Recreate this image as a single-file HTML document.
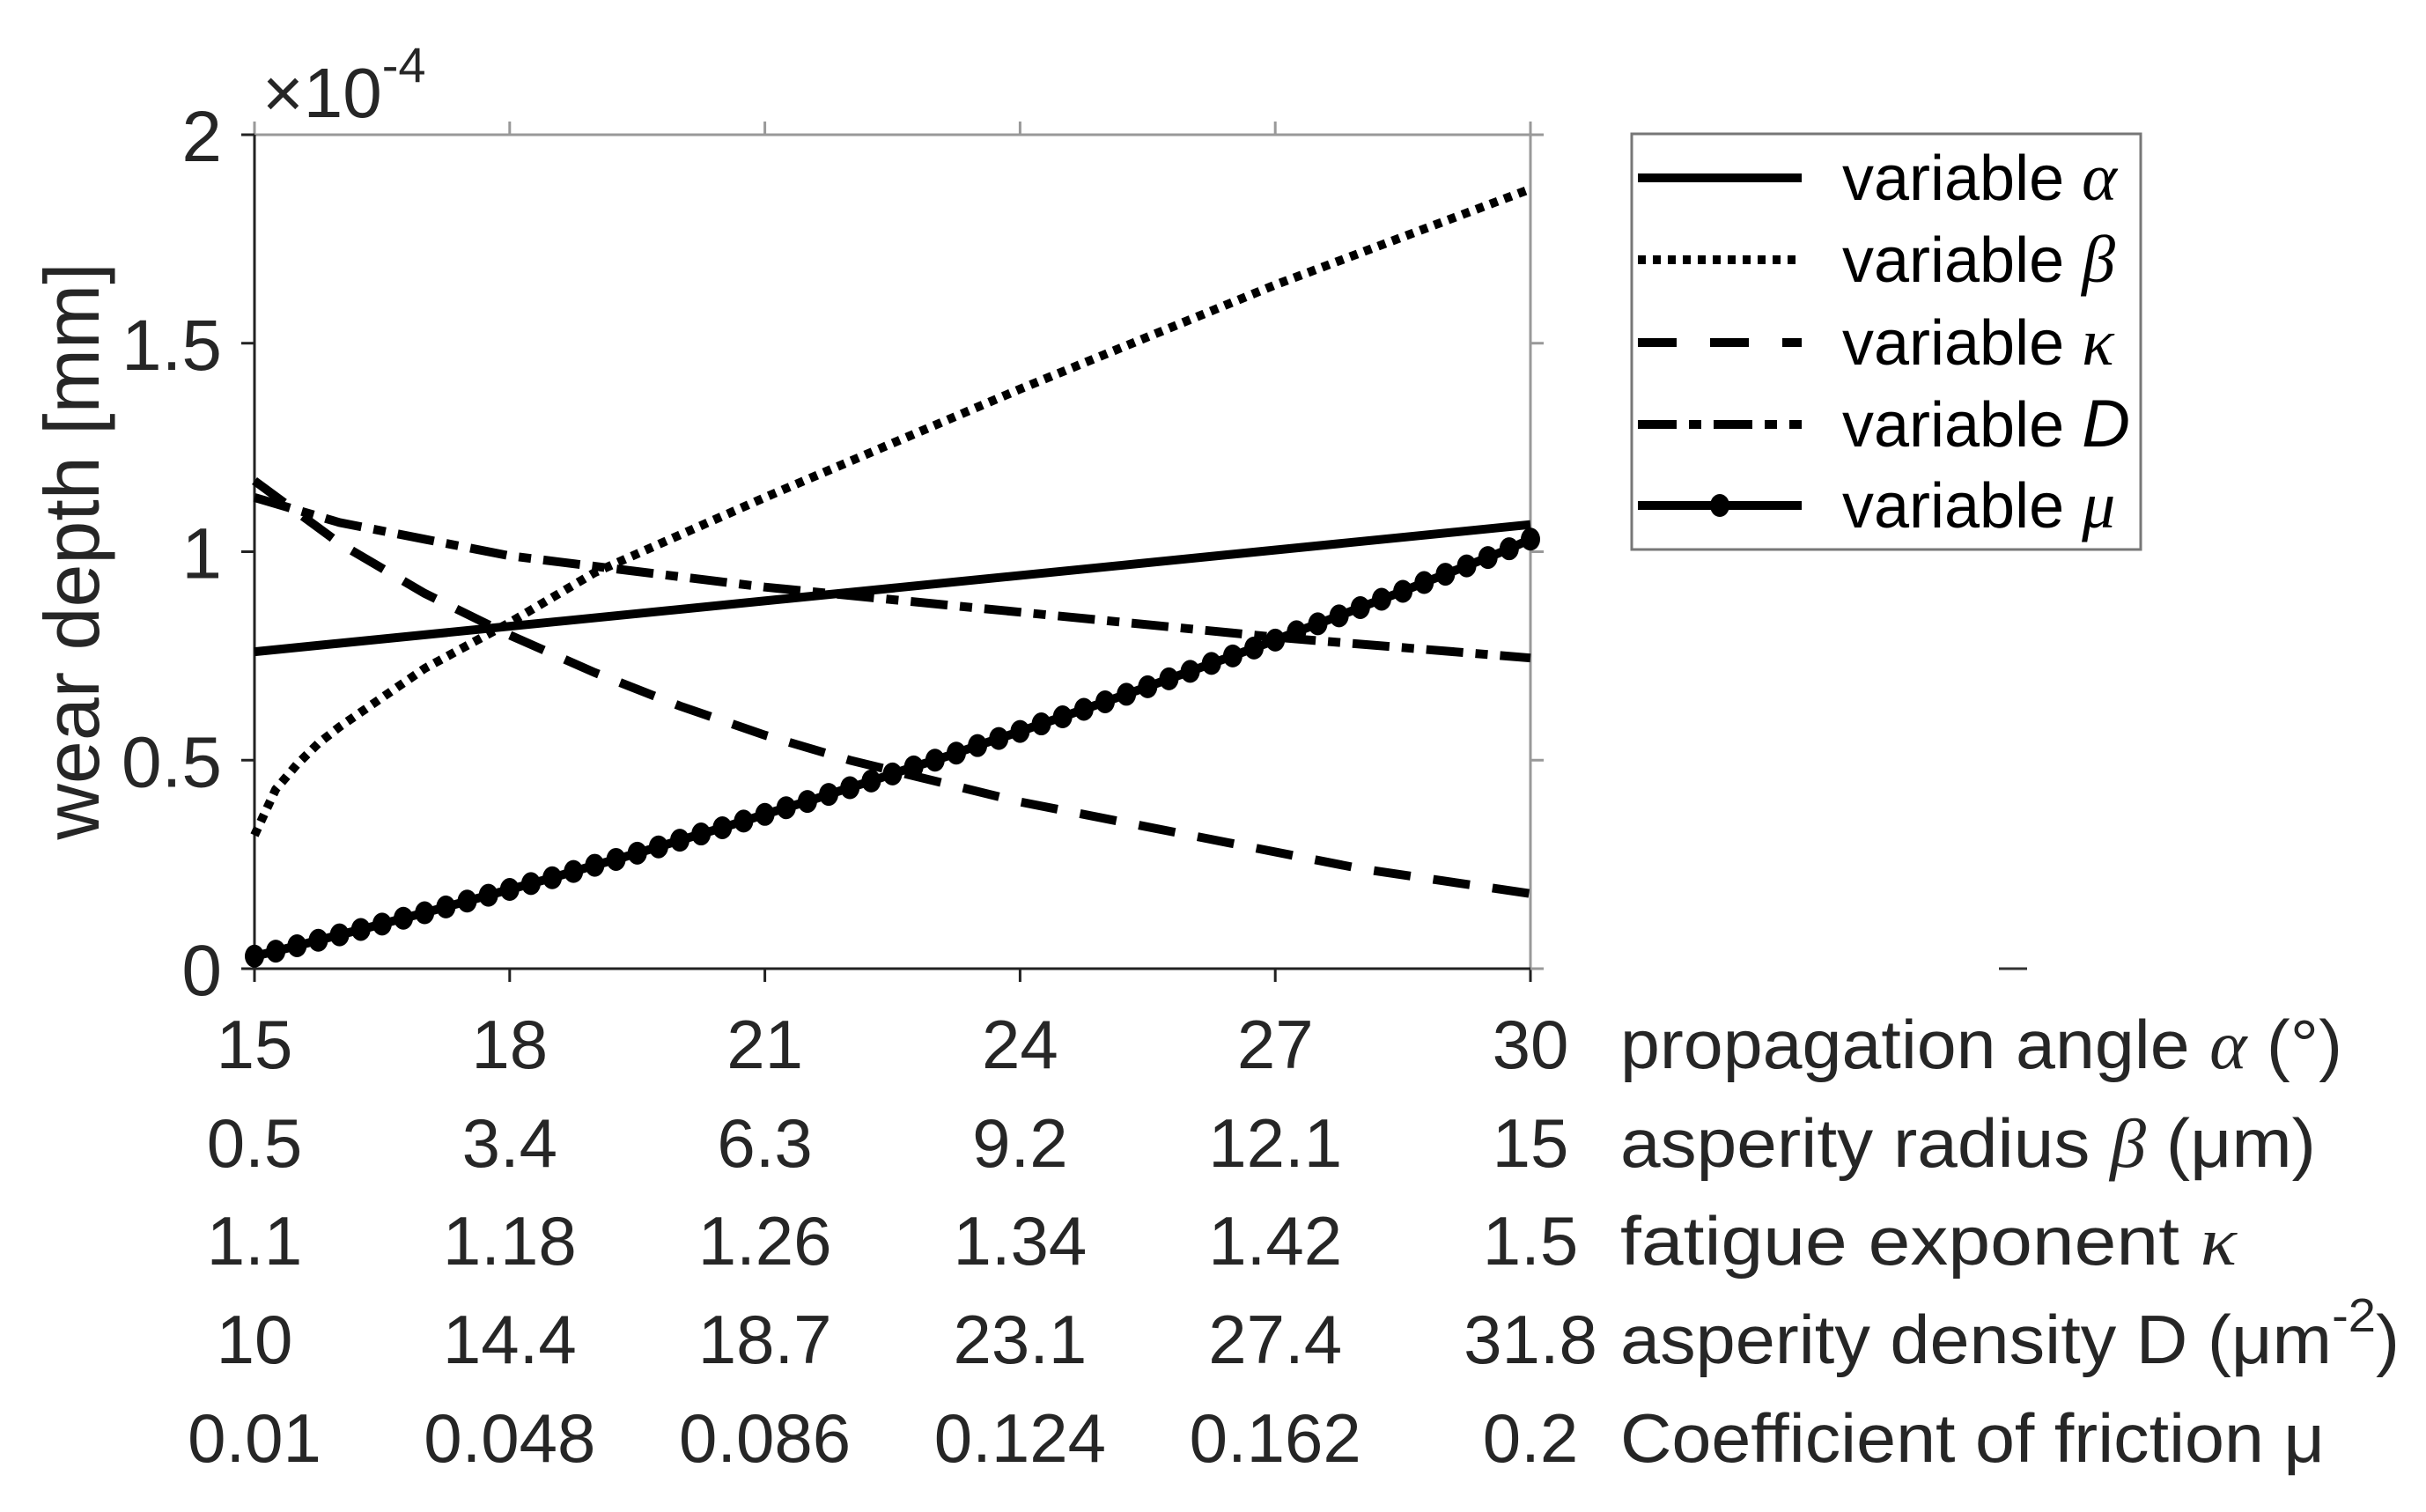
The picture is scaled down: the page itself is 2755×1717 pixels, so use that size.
<!DOCTYPE html>
<html><head><meta charset="utf-8"><style>
html,body{margin:0;padding:0;background:#fff;}
svg{display:block;font-family:"Liberation Sans",sans-serif;}
</style></head><body>
<svg id="chart" width="2755" height="1717" viewBox="0 0 2755 1717" xmlns="http://www.w3.org/2000/svg">
<g id="axes"></g>
<g id="series"></g>
<g id="legend"></g>
</svg>
<script>
const xTicks = [15, 18, 21, 24, 27, 30];
const yTicks = [0, 0.5, 1, 1.5, 2];
const yTickLabels = ["0", "0.5", "1", "1.5", "2"];
const rowAlpha = ["15", "18", "21", "24", "27", "30"];
const rowBeta = ["0.5", "3.4", "6.3", "9.2", "12.1", "15"];
const rowKappa = ["1.1", "1.18", "1.26", "1.34", "1.42", "1.5"];
const rowD = ["10", "14.4", "18.7", "23.1", "27.4", "31.8"];
const rowMu = ["0.01", "0.048", "0.086", "0.124", "0.162", "0.2"];
const alphaX = [15, 30];
const alphaY = [0.76, 1.065];
const betaX = [15, 15.25, 15.5, 15.75, 16, 16.5, 17, 18, 19, 21, 24, 27, 30];
const betaY = [0.32, 0.43, 0.49, 0.54, 0.58, 0.65, 0.72, 0.83, 0.95, 1.13, 1.39, 1.64, 1.87];
const kappaX = [15, 16, 17, 18, 19, 20, 21, 22, 24, 26, 28, 30];
const kappaY = [1.17, 1.02, 0.90, 0.80, 0.71, 0.63, 0.56, 0.50, 0.40, 0.32, 0.24, 0.18];
const dX = [15, 16, 17, 18, 19, 21, 24, 27, 30];
const dY = [1.13, 1.07, 1.03, 0.99, 0.965, 0.915, 0.855, 0.795, 0.745];
const muX = [15,15.25,15.5,15.75,16,16.25,16.5,16.75,17,17.25,17.5,17.75,18,18.25,18.5,18.75,19,19.25,19.5,19.75,20,20.25,20.5,20.75,21,21.25,21.5,21.75,22,22.25,22.5,22.75,23,23.25,23.5,23.75,24,24.25,24.5,24.75,25,25.25,25.5,25.75,26,26.25,26.5,26.75,27,27.25,27.5,27.75,28,28.25,28.5,28.75,29,29.25,29.5,29.75,30];
const muY = [0.030,0.042,0.055,0.068,0.081,0.094,0.107,0.121,0.134,0.148,0.162,0.176,0.190,0.204,0.218,0.233,0.248,0.262,0.277,0.292,0.308,0.323,0.338,0.354,0.370,0.386,0.401,0.418,0.434,0.450,0.467,0.484,0.500,0.517,0.535,0.552,0.569,0.587,0.604,0.622,0.640,0.658,0.676,0.695,0.713,0.732,0.750,0.769,0.788,0.808,0.827,0.846,0.866,0.886,0.905,0.926,0.946,0.966,0.986,1.007,1.030];

const L = 289, R = 1738, T = 153, B = 1100;
const xS = v => L + (v - 15) / 15 * (R - L);
const yS = v => B - v / 2 * (B - T);
const NS = "http://www.w3.org/2000/svg";
function mk(tag, attrs, parent) {
  const e = document.createElementNS(NS, tag);
  for (const k in attrs) e.setAttribute(k, attrs[k]);
  parent.appendChild(e);
  return e;
}
const axes = document.getElementById('axes');
const series = document.getElementById('series');
const legend = document.getElementById('legend');
const txt = "#262626";

let fr = mk('rect', {x: L, y: T, width: R - L, height: B - T, fill: 'none', stroke: '#999', 'stroke-width': 3}, axes);


let lx = mk('line', {x1: L, y1: T, x2: L, y2: B, stroke: '#222', 'stroke-width': 3}, axes);


let bx = mk('line', {x1: L, y1: B, x2: R, y2: B, stroke: '#222', 'stroke-width': 3}, axes);



xTicks.forEach((t) => {
  const x = xS(t);
  let a = mk('line', {x1: x, y1: B, x2: x, y2: B + 15, stroke: '#222', 'stroke-width': 3}, axes);
  
  
  let b = mk('line', {x1: x, y1: T, x2: x, y2: T - 15, stroke: '#999', 'stroke-width': 3}, axes);
  
  
});
yTicks.forEach((t, i) => {
  const y = yS(t);
  let a = mk('line', {x1: L, y1: y, x2: L - 15, y2: y, stroke: '#222', 'stroke-width': 3}, axes);
  
  
  let b = mk('line', {x1: R, y1: y, x2: R + 15, y2: y, stroke: '#999', 'stroke-width': 3}, axes);
  
  
  let tl = mk('text', {x: 252, y: y + 30, 'text-anchor': 'end', 'font-size': 82, fill: txt}, axes);
  tl.textContent = yTickLabels[i];
  
  
});
let st = mk('line', {x1: 2270, y1: 1100, x2: 2302, y2: 1100, stroke: '#333', 'stroke-width': 3}, axes);



let ex = mk('text', {x: 298, y: 133, 'font-size': 80, fill: txt}, axes);
ex.innerHTML = '×10<tspan font-size="56" dy="-40">-4</tspan>';



let yt = mk('text', {x: 0, y: 0, 'text-anchor': 'middle', 'font-size': 88, fill: txt, transform: 'translate(112,626) rotate(-90)'}, axes);
yt.textContent = 'wear depth [mm]';



const rows = [rowAlpha, rowBeta, rowKappa, rowD, rowMu];
const rowBase = [1213, 1325, 1436, 1548, 1660];
const rowTitles = [
  'propagation angle <tspan font-family="Liberation Serif" font-style="italic">α</tspan> (°)',
  'asperity radius <tspan font-family="Liberation Serif" font-style="italic">β</tspan> (μm)',
  'fatigue exponent <tspan font-family="Liberation Serif" font-style="italic">κ</tspan>',
  'asperity density D (μm<tspan font-size="54" dy="-36">-2</tspan><tspan dy="36">)</tspan>',
  'Coefficient of friction μ'];
const rowLens = [820, 790, 700, 885, 800];
rows.forEach((r, ri) => {
  r.forEach((s, i) => {
    let t = mk('text', {x: xS(xTicks[i]), y: rowBase[ri], 'text-anchor': 'middle', 'font-size': 78, fill: txt}, axes);
    t.textContent = s;
    
    
  });
  let tt = mk('text', {x: 1840, y: rowBase[ri], 'font-size': 78, fill: txt, textLength: rowLens[ri], lengthAdjust: 'spacingAndGlyphs'}, axes);
  tt.innerHTML = rowTitles[ri];
  
  
});

function path(xs, ys) {
  return xs.map((v, i) => (i ? 'L' : 'M') + xS(v).toFixed(1) + ' ' + yS(ys[i]).toFixed(1)).join(' ');
}
const SW = 10;
let p1 = mk('path', {d: path(alphaX, alphaY), fill: 'none', stroke: '#000', 'stroke-width': SW}, series);


let p2 = mk('path', {d: path(betaX, betaY), fill: 'none', stroke: '#000', 'stroke-width': SW, 'stroke-dasharray': '9 8'}, series);


let p3 = mk('path', {d: path(kappaX, kappaY), fill: 'none', stroke: '#000', 'stroke-width': SW, 'stroke-dasharray': '42 26'}, series);


let p4 = mk('path', {d: path(dX, dY), fill: 'none', stroke: '#000', 'stroke-width': SW, 'stroke-dasharray': '42 14 14 14'}, series);


let p5 = mk('path', {d: path(muX, muY), fill: 'none', stroke: '#000', 'stroke-width': SW}, series);


muX.forEach((v, i) => {
  let c = mk('ellipse', {cx: xS(v), cy: yS(muY[i]), rx: 11, ry: 13, fill: '#000'}, series);
  
  
});

let lb = mk('rect', {x: 1853, y: 152, width: 578, height: 472, fill: '#fff', stroke: '#777', 'stroke-width': 3}, legend);


const legNames = ['α', 'β', 'κ', 'D', 'μ'];
const legDash = [null, '9 8', '44 38', '44 14 14 14', null];
const legY = [202, 295, 389, 482, 574];
legNames.forEach((n, i) => {
  const g = mk('g', {}, legend);
  
  
  const ln = mk('line', {x1: 1860, y1: legY[i], x2: 2046, y2: legY[i], stroke: '#000', 'stroke-width': SW}, g);
  if (legDash[i]) ln.setAttribute('stroke-dasharray', legDash[i]);
  
  
  if (i === 4) {
    let c = mk('ellipse', {cx: 1953, cy: legY[i], rx: 11, ry: 13, fill: '#000'}, g);
    
    
  }
  const t = mk('text', {x: 2092, y: legY[i] + 25, 'font-size': 72, fill: '#000'}, g);
  t.innerHTML = 'variable <tspan ' + (i === 3 ? 'font-family="Liberation Sans"' : 'font-family="Liberation Serif"') + ' font-style="italic" font-size="76">' + n + '</tspan>';
  
  
});
</script>
</body></html>
